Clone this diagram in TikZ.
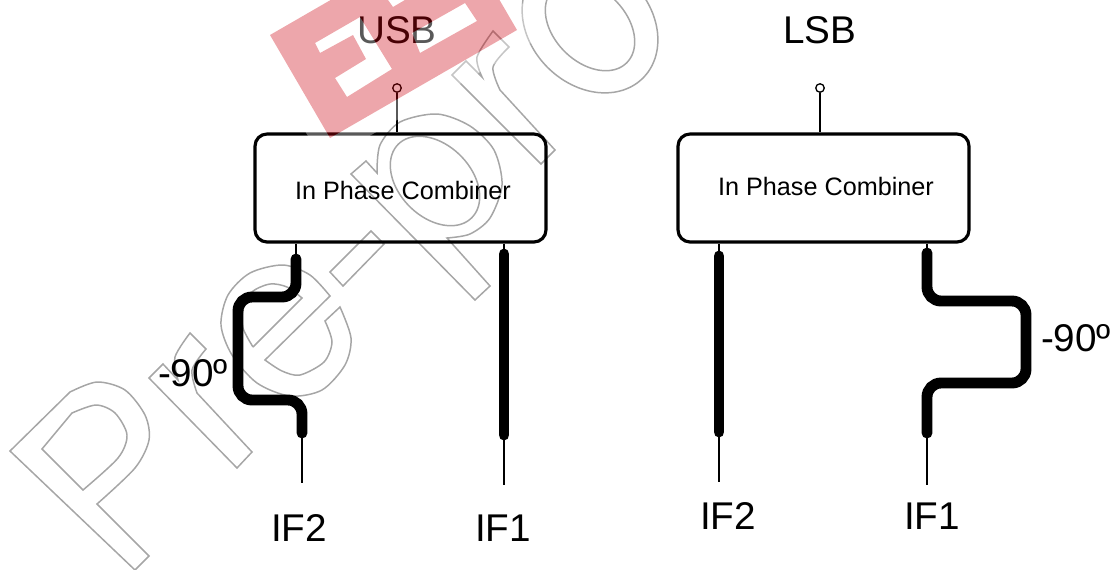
\documentclass[tikz,border=0pt]{standalone}
\usepackage{fontspec}
\setmainfont{Liberation Sans}
\definecolor{cMark}{rgb}{0.8,0,0.05}
\tikzset{
  combiner/.style={draw, line width=1.8pt, rounded corners=0.24cm, minimum width=5.82cm, minimum height=2.16cm},
  biglabel/.style={font=\fontsize{22}{24}\selectfont, inner sep=0pt},
  boxlabel/.style={font=\fontsize{14.35}{16}\selectfont, inner sep=0pt},
  thinline/.style={line width=0.75pt},
  thickline/.style={line width=6.2pt, line cap=round, rounded corners=0.28cm},
  portdot/.style={circle, draw, line width=0.75pt, inner sep=0pt, minimum size=0.17cm},
  markline/.style={line width=0.85pt, draw=black, opacity=0.35, line join=miter}
}
\begin{document}
\begin{tikzpicture}[x=0.02cm, y=-0.02cm]
        \useasboundingbox (0,0) rectangle (1111,569);
        \clip (0,0) rectangle (1111,569);
        % left half
        \node[combiner] (usbbox) at (400.5,188) {};
        \node[boxlabel] (usbtext) at (403,190) {In Phase Combiner};
        \node[biglabel] (usb) at (397,30) {USB};
        \node[portdot] (usbport) at (397,88) {};
        \draw[thinline] (usbport) -- (usbport |- usbbox.north);
        \coordinate (lefttwotop) at (296,259);
        \coordinate (lefttwoend) at (302,433);
        \coordinate (leftonetop) at (504,254);
        \coordinate (leftoneend) at (504,435);
        \node[biglabel] (lefttwo) at (299,528) {IF2};
        \node[biglabel] (leftone) at (503,528) {IF1};
        \node[biglabel] (leftphase) at (193,373) {-90º};
        \draw[thinline] (lefttwotop |- usbbox.south) -- (lefttwotop);
        \draw[thickline] (lefttwotop) -- (296,297) -- (238,297) -- (238,400) -- (302,400) -- (lefttwoend);
        \draw[thinline] (lefttwoend) -- (302,483);
        \draw[thinline] (leftonetop |- usbbox.south) -- (leftonetop);
        \draw[thickline] (leftonetop) -- (leftoneend);
        \draw[thinline] (leftoneend) -- (504,485);
        % right half
        \node[combiner] (lsbbox) at (823.5,188) {};
        \node[boxlabel] (lsbtext) at (826,186) {In Phase Combiner};
        \node[biglabel] (lsb) at (820,30) {LSB};
        \node[portdot] (lsbport) at (820,88) {};
        \draw[thinline] (lsbport) -- (lsbport |- lsbbox.north);
        \coordinate (righttwotop) at (719,256);
        \coordinate (righttwoend) at (719,432);
        \coordinate (rightonetop) at (927,253);
        \coordinate (rightoneend) at (927,433);
        \node[biglabel] (righttwo) at (728,516) {IF2};
        \node[biglabel] (rightone) at (932,516) {IF1};
        \node[biglabel] (rightphase) at (1076,338) {-90º};
        \draw[thinline] (righttwotop |- lsbbox.south) -- (righttwotop);
        \draw[thickline] (righttwotop) -- (righttwoend);
        \draw[thinline] (righttwoend) -- (719,482);
        \draw[thinline] (rightonetop |- lsbbox.south) -- (rightonetop);
        \draw[thickline] (rightonetop) -- (927,301) -- (1026,301) -- (1026,383) -- (927,383) -- (rightoneend);
        \draw[thinline] (rightoneend) -- (927,485);
        % stamp outlines
        \draw[markline] (10,451) -- (70,392) -- plot[smooth] coordinates {(70,392) (97,382) (125,390) (145,415) (149,440) (135,468) (97,504)} -- (149,556) -- (135,570) -- cycle;
        \draw[markline] (42,449) -- (72,413) -- plot[smooth] coordinates {(72,413) (96,405) (115,413) (127,435) (118,458) (83,490)} -- cycle;
        \draw[markline] (149,378) -- (163,364) -- (178,380) -- plot[smooth] coordinates {(178,380) (175,357) (190,333)} -- (206,349) -- plot[smooth] coordinates {(206,349) (192,370) (197,393)} -- (252,452) -- (237,468) -- cycle;
        \draw[markline] plot[smooth] coordinates {(330,296) (310,275) (283,265) (250,273) (228,295) (221,325) (232,355) (257,383) (290,396) (322,390) (345,365) (351,338) (340,307)} -- (325,321) -- plot[smooth] coordinates {(325,321) (332,342) (324,362) (300,375) (282,371) (265,360)} -- cycle;
        \draw[markline] (253,347) -- (302,298) -- plot[smooth] coordinates {(302,298) (287,287) (270,284) (252,292) (243,310) (243,328) (253,347)};
        \draw[markline] (371,231) -- (384,244) -- (343,286) -- (330,272) -- cycle;
        \draw[markline] (366,161) -- (351,174) -- (475,300) -- (490,286) -- (447,238) -- plot[smooth] coordinates {(447,238) (470,234) (490,218) (502,185) (494,150) (470,126) (437,114) (400,122) (380,145) (377,173)} -- cycle;
        \draw[markline] plot[domain=0:360, samples=49, smooth] ({435+0.707*(52*cos(\x)+36*sin(\x))},{181+0.707*(52*cos(\x)-36*sin(\x))});
        \draw[markline] (452,75) -- (466,61) -- (482,77) -- plot[smooth] coordinates {(482,77) (477,57) (493,31)} -- (509,47) -- plot[smooth] coordinates {(509,47) (493,67) (500,90)} -- (555,150) -- (541,164) -- cycle;
        \draw[markline] plot[domain=0:360, samples=49, smooth] ({590+0.707*(75*cos(\x)+60*sin(\x))},{25+0.707*(75*cos(\x)-60*sin(\x))});
        \draw[markline] plot[domain=0:360, samples=49, smooth] ({590+0.707*(52*cos(\x)+36*sin(\x))},{26+0.707*(52*cos(\x)-36*sin(\x))});
        % stamp logo, over the drawing
        \fill[white, opacity=0.35, even odd rule] (245.4,28.4) -- (323.4,162.6) -- (541.6,36.6) -- (463.6,-97.6) -- cycle
          (270,35) -- (330,138) -- (517,30) -- (457,-73) -- cycle
          (315,43) -- (360,17) -- (392,69) -- (347,97) -- (335,78) -- (366,59) -- (353,35) -- (320,53) -- cycle
          (412,33) -- (465,3) -- (477,21) -- (420,53) -- cycle
          (388,0) -- (393,7) -- (410,-3) -- (404,-9) -- cycle;
        \fill[cMark, opacity=0.35, even odd rule] (270,35) -- (330,138) -- (517,30) -- (457,-73) -- cycle
          (315,43) -- (360,17) -- (392,69) -- (347,97) -- (335,78) -- (366,59) -- (353,35) -- (320,53) -- cycle
          (412,33) -- (465,3) -- (477,21) -- (420,53) -- cycle
          (388,0) -- (393,7) -- (410,-3) -- (404,-9) -- cycle;
\end{tikzpicture}
\end{document}
